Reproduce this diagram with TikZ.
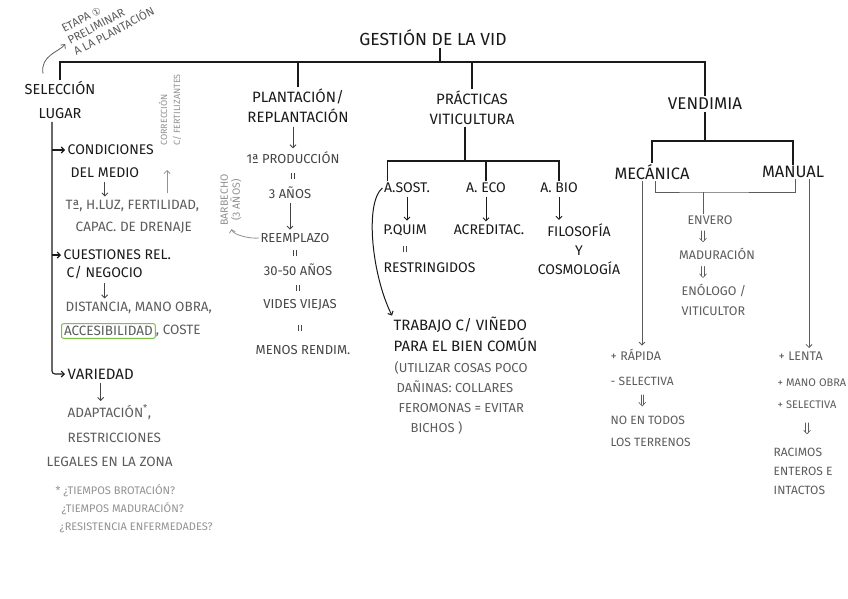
\documentclass[tikz,border=0pt]{standalone}
\usepackage{fontspec}
\setmainfont{Fira Sans}
\newfontfamily\djv{DejaVu Sans}
\usetikzlibrary{arrows.meta,calc}
\definecolor{ink}{HTML}{1A1A1A}
\definecolor{ink2}{HTML}{454545}
\definecolor{ink3}{HTML}{5C5C5C}
\definecolor{ink4}{HTML}{929292}
\definecolor{hl}{HTML}{7CC242}
\newcommand\fs[2]{\fontsize{#1}{#2}\selectfont}
\newcommand\eqlink[2]{%
  \path (#1.south) -- coordinate (eqm) (#1.south |- #2.north);
  \draw[eqs] ([xshift=-1.6pt,yshift=-3pt]eqm) -- ([xshift=-1.6pt,yshift=3pt]eqm)
             ([xshift=1.6pt,yshift=-3pt]eqm) -- ([xshift=1.6pt,yshift=3pt]eqm);}
\newcommand\dblarr[3]{%
  \path (#1.south -| #3) -- coordinate (dm) (#3 |- #2.north);
  \path (dm) ++(0,-5.5) coordinate (da);
  \path (dm) ++(0,5.5) coordinate (db);
  \draw[dl] ([xshift=-1.3pt]da) -- ([xshift=-1.3pt,yshift=1.5pt]db)
            ([xshift=1.3pt]da) -- ([xshift=1.3pt,yshift=1.5pt]db);
  \draw[dl] ([xshift=-3.4pt,yshift=3.6pt]db) -- (db) -- ([xshift=3.4pt,yshift=3.6pt]db);}
\begin{document}
\begin{tikzpicture}[x=1pt,y=-1pt,
  every node/.style={inner sep=1.5pt},
  hd/.style={text=ink, font=\fs{14}{20}},
  g1/.style={text=ink2, font=\fs{13}{20}},
  g2/.style={text=ink3, font=\fs{13.5}{23}},
  g3/.style={text=ink4, font=\fs{11}{18}},
  g4/.style={text=ink4, font=\fs{9}{13}},
  tree/.style={draw=ink, line width=1.1pt},
  gline/.style={draw=ink3, line width=0.8pt},
  dl/.style={draw=ink3, line width=0.6pt, line cap=round, line join=round},
  tipb/.style={-{Straight Barb[length=3pt,width=6pt]}},
  arr/.style={draw=ink2, line width=0.9pt, tipb, shorten >=2pt, shorten <=2pt},
  barr/.style={draw=ink, line width=0.9pt, tipb, shorten >=2pt, shorten <=2pt},
  garr/.style={draw=ink3, line width=0.8pt, tipb},
  larr/.style={draw=ink4, line width=0.8pt, tipb},
  eqs/.style={draw=ink2, line width=0.7pt}]
\useasboundingbox (0,0) rectangle (848,599);
\fill[white] (0,0) rectangle (848,599);

% top level
\node[hd, font=\fs{17.5}{20}] (title) at (433,38) {GESTIÓN DE LA VID};
\node[hd, align=center, font=\fs{14.5}{24}] (sel) at (60,100) {SELECCIÓN\\LUGAR};
\node[hd, align=center, font=\fs{15}{20}] (plant) at (298,106) {PLANTACIÓN/\\REPLANTACIÓN};
\node[hd, align=center, font=\fs{15}{20}] (prac) at (472,108) {PRÁCTICAS\\VITICULTURA};
\node[hd, font=\fs{17}{20}] (vend) at (705,104) {VENDIMIA};
\coordinate (bar) at (440,62);
\draw[tree] (title.south -| bar) -- (bar);
\draw[tree] (sel.north) |- (bar) -| (vend.north);
\draw[tree] (plant.north) -- (plant.north |- bar);
\draw[tree] (prac.north) -- (prac.north |- bar);

% etapa note
\node[text=ink3, rotate=28, align=left, font=\fs{11.5}{13}] (etapa) at (108,20) {ETAPA {\djv\fs{10}{13}①}\\PRELIMINAR\\A LA PLANTACIÓN};
\draw[garr, shorten >=3pt] ([xshift=-17pt,yshift=6pt]sel.north) .. controls +(-3,-18) and +(-8,10) .. (etapa.west);

% seleccion lugar
\node[hd, anchor=west] (cond1) at (66,150) {CONDICIONES};
\node[hd, anchor=west] (cond2) at (69,173) {DEL MEDIO};
\node[g2, anchor=west] (tlz1) at (64,206) {Tª, H.LUZ, FERTILIDAD,};
\node[g2, anchor=west] (tlz2) at (74,228) {CAPAC. DE DRENAJE};
\node[hd, anchor=west] (cuest1) at (62,255) {CUESTIONES REL.};
\node[hd, anchor=west] (cuest2) at (65,273) {C/ NEGOCIO};
\node[g2, anchor=west] (dist) at (64,308) {DISTANCIA, MANO OBRA,};
\node[g2, anchor=west, draw=hl, line width=1pt, rounded corners=2pt, inner sep=2.5pt] (acc) at (61,331) {ACCESIBILIDAD};
\node[g2, anchor=west, inner sep=0pt] (coste) at (acc.east) {, COSTE};
\node[hd, anchor=west, font=\fs{15}{20}] (var) at (66,374) {VARIEDAD};
\node[g2, anchor=west] (adap) at (66,412) {ADAPTACIÓN\textsuperscript{*},};
\node[g2, anchor=west] (restc) at (66,438) {RESTRICCIONES};
\node[g2, anchor=west] (leg) at (45,462) {LEGALES EN LA ZONA};
\node[g3, anchor=west, align=left] (tiem) at (54,509) {* ¿TIEMPOS BROTACIÓN?\\\hspace*{6pt}¿TIEMPOS MADURACIÓN?\\\hspace*{4pt}¿RESISTENCIA ENFERMEDADES?};
\coordinate (sv) at (52,122);
\draw[tree, rounded corners=3pt, tipb, shorten >=1pt] (sv) |- (var.west);
\draw[tree, tipb, shorten >=1pt] (sv |- cond1.west) -- (cond1.west);
\draw[tree, tipb, shorten >=1pt] (sv |- cuest1.west) -- (cuest1.west);
\draw[arr] (cond2.south) -- (cond2.south |- tlz1.north);
\draw[arr] (cuest2.south) -- (cuest2.south |- dist.north);
\draw[arr] (var.south) -- (var.south |- adap.north);
\node[g4, rotate=90, align=left] (corr) at (170,110) {CORRECCIÓN\\C/ FERTILIZANTES};
\coordinate (ca) at (167,193);
\draw[larr] (ca) -- ++(0,-23);

% plantacion
\node[g1] (prod) at (293,158) {1ª PRODUCCIÓN};
\node[g1] (a3) at (290,193) {3 AÑOS};
\node[g1] (reem) at (295,238) {REEMPLAZO};
\node[g1] (a30) at (298,270) {30-50 AÑOS};
\node[g1] (vides) at (300,305) {VIDES VIEJAS};
\node[g1] (menos) at (303,350) {MENOS RENDIM.};
\draw[arr] ([xshift=-5pt]plant.south) -- ([xshift=-5pt]plant.south |- prod.north);
\eqlink{prod}{a3}
\draw[arr] (a3.south) -- (a3.south |- reem.north);
\eqlink{reem}{a30}
\eqlink{a30}{vides}
\eqlink{vides}{menos}
\node[g4, rotate=90, align=center, font=\fs{10.5}{12}] (barb) at (231,200) {BARBECHO\\(3 AÑOS)};
\draw[larr, shorten >=2pt] (reem.west) .. controls +(-8,1) and +(2,8) .. (barb.west);

% practicas
\node[hd] (asost) at (407,188) {A.SOST.};
\node[hd] (aeco) at (486,188) {A. ECO};
\node[hd] (abio) at (559,188) {A. BIO};
\coordinate (pb) at (465,161);
\draw[tree] (prac.south -| pb) -- (pb);
\draw[tree] ([xshift=5pt]asost.north west) |- (pb) -| (abio.north);
\draw[tree] (aeco.north) -- (aeco.north |- pb);
\node[hd] (pquim) at (405,230) {P.QUIM};
\node[hd] (acred) at (489,230) {ACREDITAC.};
\node[hd, align=center, font=\fs{14}{19}] (filo) at (579,249) {FILOSOFÍA\\Y\\COSMOLOGÍA};
\node[hd, anchor=west] (restr) at (382,268) {RESTRINGIDOS};
\draw[barr] (asost.south) -- (asost.south |- pquim.north);
\draw[barr] (aeco.south) -- (aeco.south |- acred.north);
\draw[barr] (abio.south) -- (abio.south |- filo.north);
\eqlink{pquim}{restr}
\node[hd, anchor=west, font=\fs{15}{20}] (trab1) at (392,325) {TRABAJO C/ VIÑEDO};
\node[hd, anchor=west, font=\fs{15}{20}] (trab2) at (392,345) {PARA EL BIEN COMÚN};
\node[g2, anchor=west, align=left, font=\fs{13}{20}] (util) at (393,398) {(UTILIZAR COSAS POCO\\\hspace*{2pt}DAÑINAS: COLLARES\\\hspace*{4pt}FEROMONAS = EVITAR\\\hspace*{16pt}BICHOS )};
\draw[draw=ink, line width=1pt, tipb] (asost.west) .. controls +(-18,15) and +(-20,-40) .. (trab1.north west);

% vendimia
\node[hd, font=\fs{16.5}{20}] (mec) at (652,172) {MECÁNICA};
\node[hd, font=\fs{16.5}{20}] (man) at (793,172) {MANUAL};
\coordinate (vb) at (702,141);
\draw[tree] (vend.south) -- (vend.south |- vb);
\draw[tree] (mec.north) |- (vend.south |- vb) -| (man.north);
\coordinate (mb) at (703,192);
\draw[gline] ([xshift=3pt]mec.south) |- (mb) -| ([xshift=2pt]man.south);
\node[g2, font=\fs{12.5}{20}] (env) at (710,220) {ENVERO};
\node[g2, font=\fs{12.5}{20}] (mad) at (717,254) {MADURACIÓN};
\node[g2, anchor=west, align=left, font=\fs{12.5}{20}] (enol) at (680,300) {ENÓLOGO /\\VITICULTOR};
\draw[gline] (mb) -- (mb |- env.north);
\dblarr{env}{mad}{mb}
\dblarr{mad}{enol}{mb}
\node[g2, anchor=west, font=\fs{12.5}{20}] (rap) at (609,355) {+ RÁPIDA};
\node[g2, anchor=west, font=\fs{12}{20}] (sel2) at (609,381) {- SELECTIVA};
\node[g2, anchor=west, align=left, font=\fs{12}{22}] (noen) at (609,431) {NO EN TODOS\\LOS TERRENOS};
\dblarr{sel2}{noen}{sel2.south}
\draw[garr, shorten >=2pt] ([xshift=-10pt]mec.south) -- ([xshift=-10pt]mec.south |- rap.north);
\node[g2, anchor=west, font=\fs{12.5}{20}] (lenta) at (777,356) {+ LENTA};
\node[g2, anchor=west, font=\fs{11}{20}] (mano) at (776,383) {+ MANO OBRA};
\node[g2, anchor=west, font=\fs{11}{20}] (sel3) at (776,405) {+ SELECTIVA};
\node[g2, anchor=west, align=left, font=\fs{12}{19}] (rac) at (772,471) {RACIMOS\\ENTEROS E\\INTACTOS};
\dblarr{sel3}{rac}{sel3.south}
\draw[garr, shorten >=2pt] ([xshift=16pt]man.south) -- ([xshift=16pt]man.south |- lenta.north);
\end{tikzpicture}
\end{document}
